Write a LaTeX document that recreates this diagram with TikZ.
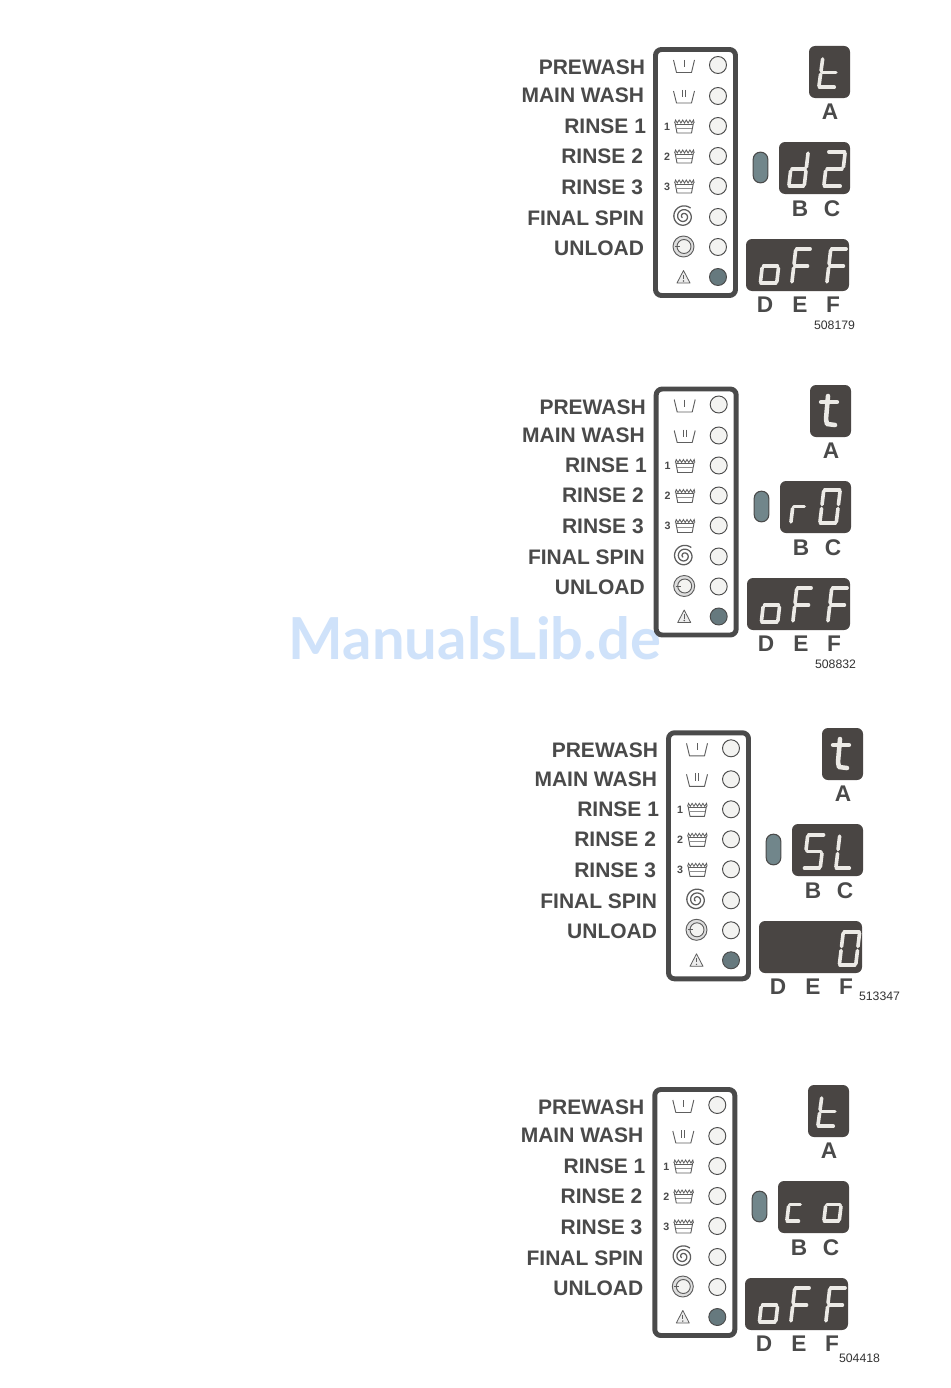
\documentclass[tikz,border=0pt]{standalone}
\usepackage{fontspec}
\setmainfont{Liberation Sans}
\newfontfamily\markfont{Lato}
\definecolor{ink}{HTML}{4A4A4A}
\definecolor{dispbg}{HTML}{494543}
\definecolor{segcol}{HTML}{ECEAE6}
\definecolor{ledoff}{HTML}{F3F3F1}
\definecolor{ledon}{HTML}{66797E}
\definecolor{ovalcol}{HTML}{71868B}
\definecolor{iconcol}{HTML}{5E5E5E}
\definecolor{markcol}{HTML}{CFE2FA}
\tikzset{
  x=0.75pt,y=-0.75pt,
  steplabel/.style={anchor=base east,inner sep=0pt,outer sep=0pt,text=ink,font=\fontsize{15.75}{16}\selectfont\bfseries},
  letterlabel/.style={anchor=base,inner sep=0pt,outer sep=0pt,text=ink,font=\fontsize{17}{18}\selectfont\bfseries},
  codelabel/.style={anchor=base east,inner sep=0pt,outer sep=0pt,text=black!80,font=\fontsize{9.2}{10}\selectfont},
  numlabel/.style={inner sep=0pt,outer sep=0pt,text=ink,font=\fontsize{8}{9}\selectfont\bfseries},
  frameline/.style={draw=ink,line width=3.7pt,rounded corners=4.5pt},
  led/.style={circle,draw=ink,line width=0.7pt,fill=ledoff,minimum size=12.75pt,inner sep=0pt,outer sep=0pt},
  ledlit/.style={led,fill=ledon},
  dispbox/.style={rectangle,fill=dispbg,rounded corners=4.5pt,anchor=north west,inner sep=0pt,outer sep=0pt},
  ovalled/.style={rectangle,draw=ink,line width=0.8pt,fill=ovalcol,rounded corners=5.4pt,inner sep=0pt,outer sep=0pt,minimum width=11pt,minimum height=23pt},
  segline/.style={draw=segcol,line width=2.7pt,line cap=round},
  iconline/.style={draw=iconcol,line width=0.7pt},
}
% seven segment digit: x0,y0 = outer bottom left, w,h = outer size without the slant
\newcommand\gsegm[4]{\draw[segline] ({\gx+(#1)*\gw+(#2)*\gs},{\gy-(#2)*\gh}) -- ({\gx+(#3)*\gw+(#4)*\gs},{\gy-(#4)*\gh});}
\newcommand\sega{\gsegm{.06}{1}{.96}{1}}
\newcommand\segb{\gsegm{1}{.96}{1}{.56}}
\newcommand\segc{\gsegm{1}{.44}{1}{.04}}
\newcommand\segd{\gsegm{.04}{0}{.94}{0}}
\newcommand\sege{\gsegm{0}{.44}{0}{.04}}
\newcommand\segf{\gsegm{0}{.96}{0}{.56}}
\newcommand\segg{\gsegm{.08}{.5}{.92}{.5}}
\newcommand\sevenseg[5]{\def\gx{(#1+1.8)}\def\gy{(#2-1.8)}\def\gw{(#3-3.6)}\def\gh{(#4-3.6)}\def\gs{4}\foreach \sgm in {#5}{\csname seg\sgm\endcsname}}
% hooked t
\newcommand\hookt{%
  \draw[draw=segcol,line width=3.4pt,line cap=round,line join=round] (827,57) -- (825,80) -- (826,85) -- (834,86);
  \draw[draw=segcol,line width=3.2pt,line cap=round] (820,63) -- (836,63);}
% rinse tub
\newcommand\rinseicon[3]{%
  \node[numlabel] (#1-num#3) at (667,#2+0.5) {#3};
  \draw[iconline,line join=round] (675,#2-3.5) -- (677,#2+7) -- (691.5,#2+7) -- (693.5,#2-3.5);
  \draw[iconline,line width=0.6pt] (674.5,#2-3) -- (675.5,#2-6) -- (677.3,#2-3) -- (679.1,#2-6) -- (680.9,#2-3) -- (682.7,#2-6) -- (684.5,#2-3) -- (686.3,#2-6) -- (688.1,#2-3) -- (689.9,#2-6) -- (691.7,#2-3) -- (693.5,#2-6) -- (694.2,#2-3);
  \draw[iconline,line width=0.6pt] (675.5,#2-2) -- (693,#2-2);
  \draw[iconline,line width=0.5pt,draw=iconcol!70] (676.5,#2+2) -- (692,#2+2);}
% common left panel
\newcommand\leftpanel[1]{%
  \draw[frameline] (655.5,49.5) rectangle (735.5,295.5);
  \node[steplabel] (#1-prewash) at (645,74.5) {PREWASH};
  \node[steplabel] (#1-mainwash) at (644,102.7) {MAIN WASH};
  \node[steplabel] (#1-rinse1) at (646,133) {RINSE 1};
  \node[steplabel] (#1-rinse2) at (643,163) {RINSE 2};
  \node[steplabel] (#1-rinse3) at (643,194) {RINSE 3};
  \node[steplabel] (#1-spin) at (644,225) {FINAL SPIN};
  \node[steplabel] (#1-unload) at (644,255) {UNLOAD};
  \node[led] (#1-led1) at (718,65) {};
  \node[led] (#1-led2) at (718,96) {};
  \node[led] (#1-led3) at (718,126) {};
  \node[led] (#1-led4) at (718,156) {};
  \node[led] (#1-led5) at (718,186) {};
  \node[led] (#1-led6) at (718,217) {};
  \node[led] (#1-led7) at (718,247) {};
  \node[ledlit] (#1-led8) at (718,277) {};
  % tubs
  \draw[iconline,line join=round] (673.5,60) -- (676.5,72.5) -- (691.5,72.5) -- (694.5,60);
  \draw[iconline] (684,60) -- (684,67);
  \draw[iconline,line join=round] (673.5,91) -- (676.5,103) -- (691.5,103) -- (694.5,91);
  \draw[iconline] (682.5,90) -- (682.5,97.5);
  \draw[iconline] (685.5,90) -- (685.5,97.5);
  \rinseicon{#1}{126}{1}
  \rinseicon{#1}{156}{2}
  \rinseicon{#1}{186}{3}
  % spin spiral
  \draw[iconline,line width=0.95pt] plot[domain=0:900,samples=140,smooth] ({683.5+(1.5+\x/900*9.5)*cos(950-\x)},{216.5-(1.5+\x/900*9.5)*sin(950-\x)});
  % unload
  \draw[iconline,fill=black!13] (683.5,246.5) circle[radius=10.5];
  \draw[iconline,fill=ledoff] (684,246.5) circle[radius=7];
  \draw[iconline] (675,246.5) -- (680,246.5);
  % warning
  \draw[iconline,line width=0.6pt,fill=black!7,line join=round] (683.5,270.5) -- (690,283) -- (677,283) -- cycle;
  \draw[draw=iconcol,line width=0.9pt] (683.5,274.5) -- (683.5,279);
  \fill[iconcol] (683.5,281) circle[radius=0.8];}
% common right displays
\newcommand\rightpanel[1]{%
  \node[dispbox,minimum width=30.75pt,minimum height=39pt] (#1-boxa) at (809,46) {};
  \node[dispbox,minimum width=53.25pt,minimum height=39pt] (#1-boxbc) at (779,142) {};
  \node[dispbox,minimum width=77.25pt,minimum height=39pt] (#1-boxdef) at (746,239) {};
  \node[ovalled] (#1-oval) at (760.5,167.5) {};
  \node[letterlabel] (#1-A) at (830,119.5) {A};
  \node[letterlabel] (#1-B) at (800,216) {B};
  \node[letterlabel] (#1-C) at (832,216) {C};
  \node[letterlabel] (#1-D) at (765,312) {D};
  \node[letterlabel] (#1-E) at (800,312) {E};
  \node[letterlabel] (#1-F) at (833,312) {F};}
\newcommand\oFF{%
  \sevenseg{758.5}{285}{20}{38}{c,d,e,g}
  \sevenseg{790}{285}{18.5}{38}{a,e,f,g}
  \sevenseg{825}{285}{19.5}{38}{a,e,f,g}}
\newcommand\plaint{\sevenseg{817}{89}{20}{33}{d,e,f,g}}
\begin{document}
\begin{tikzpicture}
\useasboundingbox (0,0) rectangle (950,1388);
\fill[white] (0,0) rectangle (950,1388);
% watermark
\node[anchor=base,inner sep=0pt,outer sep=0pt,text=markcol,font=\markfont\fontsize{43.4}{45}\selectfont\bfseries] (watermark) at (475,659) {ManualsLib.de};
% panel 1
\begin{scope}[shift={(0,0)}]\leftpanel{pa}\end{scope}
\begin{scope}[shift={(0,0)}]
  \rightpanel{pa}\plaint
  \sevenseg{787}{188}{19}{38}{b,c,d,e,g}
  \sevenseg{822}{188}{21}{38}{a,b,d,e,g}
  \oFF
\end{scope}
\node[codelabel] (pa-code) at (855,329.5) {508179};
% panel 2
\begin{scope}[shift={(0.7,339.5)}]\leftpanel{pb}\end{scope}
\begin{scope}[shift={(1,339)}]
  \rightpanel{pb}\hookt
  \sevenseg{788}{186}{16}{37}{e,g}
  \sevenseg{817}{186}{20}{37}{a,b,c,d,e,f}
  \oFF
\end{scope}
\node[codelabel] (pb-code) at (856,668.5) {508832};
% panel 3
\begin{scope}[shift={(13,683.3)}]\leftpanel{pc}\end{scope}
\begin{scope}[shift={(13,682)}]
  \rightpanel{pc}\hookt
  \sevenseg{789}{188}{20}{37}{a,c,d,f,g}
  \sevenseg{821}{188}{18}{37}{d,e,f}
  \sevenseg{824.5}{285}{20}{37}{a,b,c,d,e,f}
\end{scope}
\node[codelabel] (pc-code) at (900,1000.5) {513347};
% panel 4
\begin{scope}[shift={(-0.7,1040)}]\leftpanel{pd}\end{scope}
\begin{scope}[shift={(-1,1039)}]
  \rightpanel{pd}\plaint
  \sevenseg{786}{184}{16}{37}{d,e,g}
  \sevenseg{823}{184}{19}{37}{c,d,e,g}
  \oFF
\end{scope}
\node[codelabel] (pd-code) at (880,1362) {504418};
\end{tikzpicture}
\end{document}
